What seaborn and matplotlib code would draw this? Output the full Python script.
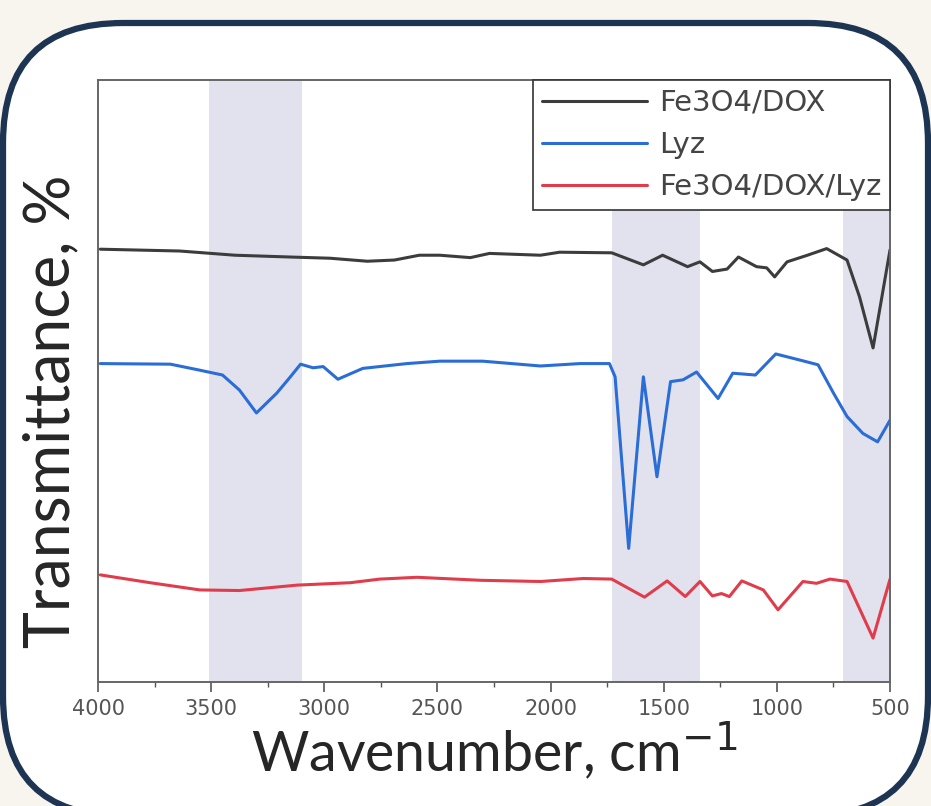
import numpy as np
import pandas as pd
import matplotlib.pyplot as plt
import seaborn as sns
from matplotlib.patches import FancyBboxPatch

# wavenumber (cm-1) / transmittance (arbitrary units, offset per curve)
wn_dox = [3990, 3640, 3395, 3150, 2975, 2810, 2690, 2580, 2490, 2355, 2270, 2045, 1960,
          1730, 1590, 1505, 1395, 1340, 1285, 1220, 1170, 1090, 1045, 1010, 955, 865,
          780, 690, 635, 575, 500]
t_dox = [71.9, 71.6, 70.9, 70.6, 70.4, 69.9, 70.1, 70.9, 70.9, 70.5, 71.2, 70.9, 71.4,
         71.3, 69.3, 70.9, 69.0, 69.8, 68.2, 68.6, 70.6, 69.0, 68.8, 67.3, 69.8, 70.9,
         72.0, 70.1, 64.0, 55.5, 71.8]

wn_lyz = [3990, 3680, 3550, 3450, 3375, 3300, 3210, 3150, 3105, 3050, 3005, 2940, 2830,
          2635, 2490, 2300, 2045, 1870, 1740, 1715, 1655, 1590, 1530, 1470, 1415, 1355,
          1260, 1195, 1095, 1005, 900, 818, 750, 690, 620, 555, 500]
t_lyz = [52.9, 52.8, 51.8, 51.0, 48.5, 44.7, 48.0, 50.7, 52.8, 52.2, 52.4, 50.3, 52.1,
         52.9, 53.3, 53.3, 52.5, 52.9, 52.9, 50.7, 22.2, 50.7, 34.1, 49.9, 50.2, 51.5,
         47.1, 51.3, 51.0, 54.5, 53.5, 52.7, 48.0, 44.1, 41.3, 39.9, 43.5]

wn_mix = [3990, 3770, 3550, 3375, 3120, 2885, 2755, 2590, 2310, 2045, 1855, 1730, 1585,
          1485, 1405, 1340, 1285, 1245, 1210, 1155, 1060, 995, 885, 825, 765, 690, 575, 500]
t_mix = [17.8, 16.5, 15.3, 15.2, 16.1, 16.5, 17.1, 17.4, 16.9, 16.7, 17.2, 17.1, 14.1,
         16.8, 14.2, 16.7, 14.3, 14.7, 14.2, 16.8, 15.3, 12.0, 16.7, 16.4, 17.1, 16.7, 7.3, 17.1]

labels = ['Fe3O4/DOX', 'Lyz', 'Fe3O4/DOX/Lyz']
colors = ['#3c3c3c', '#2a6dd6', '#e03c4c']
bands = [(3510, 3100), (1730, 1340), (710, 480)]

df = pd.concat([
    pd.DataFrame({'wn': wn_dox, 't': t_dox, 'sample': labels[0]}),
    pd.DataFrame({'wn': wn_lyz, 't': t_lyz, 'sample': labels[1]}),
    pd.DataFrame({'wn': wn_mix, 't': t_mix, 'sample': labels[2]}),
])

sns.set_style('ticks')
plt.rcParams['font.family'] = ['DejaVu Sans']

fig = plt.figure(figsize=(9.31, 8.06), dpi=100)
fig.patch.set_facecolor('#f8f4ee')

# rounded card behind the chart
card = FancyBboxPatch((0.03, -0.10), 9.25, 7.93,
                      boxstyle='round,pad=0,rounding_size=1.2',
                      transform=fig.dpi_scale_trans,
                      facecolor='white', edgecolor='#1d3552', lw=4.5, zorder=0)
fig.add_artist(card)

ax = fig.add_axes([0.1053, 0.1538, 0.8507, 0.7469])
for lo, hi in bands:
    ax.axvspan(lo, hi, color='#e2e2ee', lw=0, zorder=0)

sns.lineplot(data=df, x='wn', y='t', hue='sample', palette=dict(zip(labels, colors)),
             hue_order=labels, sort=False, lw=2.2, ax=ax)

ax.set_xlim(4000, 500)
ax.set_ylim(0, 100)
ax.set_xticks(np.arange(4000, 499, -500))
ax.set_xticks(np.arange(3750, 500, -500), minor=True)
ax.set_yticks([])
ax.tick_params(axis='x', which='major', length=7, width=1.2, color='#555555',
               labelsize=15, labelcolor='#555555', pad=5)
ax.tick_params(axis='x', which='minor', length=3.5, width=1.0, color='#555555')
for s in ax.spines.values():
    s.set_visible(True)
    s.set_color('#666666')
    s.set_linewidth(1.4)

ax.set_xlabel(r'Wavenumber, cm$^{-1}$', fontsize=40, family='Lato', labelpad=1)
ax.set_ylabel('Transmittance, %', fontsize=45, family='Lato')
ax.yaxis.set_label_coords(-0.022, 0.45)

leg = ax.legend(loc='upper right', fontsize=21, frameon=True, fancybox=False,
                edgecolor='#333333', framealpha=1, handlelength=3.6, handletextpad=0.4,
                labelspacing=0.48, borderpad=0.3, borderaxespad=0)
leg.get_frame().set_linewidth(1.2)
for t in leg.get_texts():
    t.set_color('#444444')
for h in leg.get_lines():
    h.set_linewidth(2.2)

fig.savefig('out.png', dpi=100, facecolor=fig.get_facecolor())
